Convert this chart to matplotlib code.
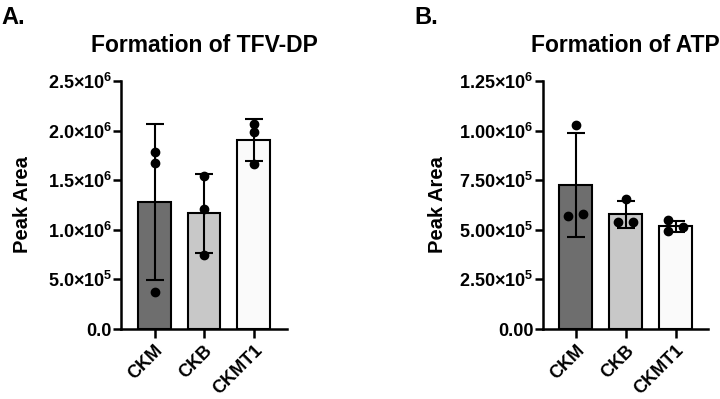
import numpy as np
import matplotlib
matplotlib.use("Agg")
import matplotlib.pyplot as plt

plt.rcParams['font.family'] = ['Liberation Sans', 'DejaVu Sans']
plt.rcParams['font.weight'] = 'bold'
plt.rcParams['mathtext.fontset'] = 'custom'
plt.rcParams['mathtext.rm'] = 'Liberation Sans:bold'
plt.rcParams['mathtext.bf'] = 'Liberation Sans:bold'
plt.rcParams['mathtext.default'] = 'bf'

categories = ["CKM", "CKB", "CKMT1"]

# Panel A: Formation of TFV-DP (peak area, replicate points)
tfv_points = [
    [1.787e6, 1.670e6, 0.370e6],
    [1.545e6, 1.207e6, 0.746e6],
    [2.067e6, 1.986e6, 1.663e6],
]
tfv_ticks = [0, 0.5e6, 1.0e6, 1.5e6, 2.0e6, 2.5e6]
tfv_ticklabels = ["0.0", "5.0×10$^{5}$", "1.0×10$^{6}$", "1.5×10$^{6}$", "2.0×10$^{6}$", "2.5×10$^{6}$"]

# Panel B: Formation of ATP
atp_points = [
    [1.030e6, 0.568e6, 0.578e6],
    [0.655e6, 0.539e6, 0.539e6],
    [0.547e6, 0.492e6, 0.514e6],
]
atp_ticks = [0, 0.25e6, 0.5e6, 0.75e6, 1.0e6, 1.25e6]
atp_ticklabels = ["0.00", "2.50×10$^{5}$", "5.00×10$^{5}$", "7.50×10$^{5}$", "1.00×10$^{6}$", "1.25×10$^{6}$"]

bar_colors = ["#6e6e6e", "#c8c8c8", "#fafafa"]
jitter_a = [[0, 0, 0], [0, 0, 0], [0, 0, 0]]
jitter_b = [[0, -0.15, 0.15], [0, -0.15, 0.15], [-0.15, -0.15, 0.15]]

fig = plt.figure(figsize=(7.2, 3.99), dpi=100)

def panel(rect, points, ticks, ticklabels, title, letter, letter_x, jitter, xlim, ylab_x):
    ax = fig.add_axes(rect)
    pts = [np.array(p) for p in points]
    means = [p.mean() for p in pts]
    sds = [p.std(ddof=1) for p in pts]
    x = np.arange(len(categories))
    ax.bar(x, means, width=0.66, color=bar_colors, edgecolor='black', linewidth=1.5, zorder=2)
    ax.errorbar(x, means, yerr=sds, fmt='none', ecolor='black', elinewidth=1.5,
                capsize=6.5, capthick=1.5, zorder=3)
    for i, p in enumerate(pts):
        ax.plot(x[i] + np.array(jitter[i]), p, 'o', color='black', markersize=6, zorder=4)
    ax.set_xlim(*xlim)
    ax.set_ylim(0, ticks[-1])
    ax.set_yticks(ticks)
    ax.set_yticklabels(ticklabels, fontsize=13, fontweight='bold')
    ax.set_xticks(x)
    ax.set_xticklabels(categories, rotation=45, ha='right', rotation_mode='anchor',
                       fontsize=13, fontweight='bold')
    for s in ['top', 'right']:
        ax.spines[s].set_visible(False)
    for s in ['left', 'bottom']:
        ax.spines[s].set_linewidth(1.8)
    ax.tick_params(axis='y', width=1.8, length=5.5, pad=1)
    ax.tick_params(axis='x', width=1.8, length=6.5, pad=3)
    ax.set_ylabel("Peak Area", fontsize=14.5, fontweight='bold')
    ax.yaxis.set_label_coords(ylab_x, 0.5)
    ax.set_title(title, fontsize=16.5, fontweight='bold', pad=21)
    fig.text(letter_x, 0.985, letter, fontsize=17, fontweight='bold', va='top', ha='left')
    return ax

panel([0.168, 0.1754, 0.231, 0.6216], tfv_points, tfv_ticks, tfv_ticklabels,
      "Formation of TFV-DP", "A.", 0.002, jitter_a, (-0.68, 2.68), -0.533)
panel([0.754, 0.1754, 0.230, 0.6216], atp_points, atp_ticks, atp_ticklabels,
      "Formation of ATP", "B.", 0.576, jitter_b, (-0.66, 2.66), -0.577)

fig.savefig("out.png", dpi=100)
